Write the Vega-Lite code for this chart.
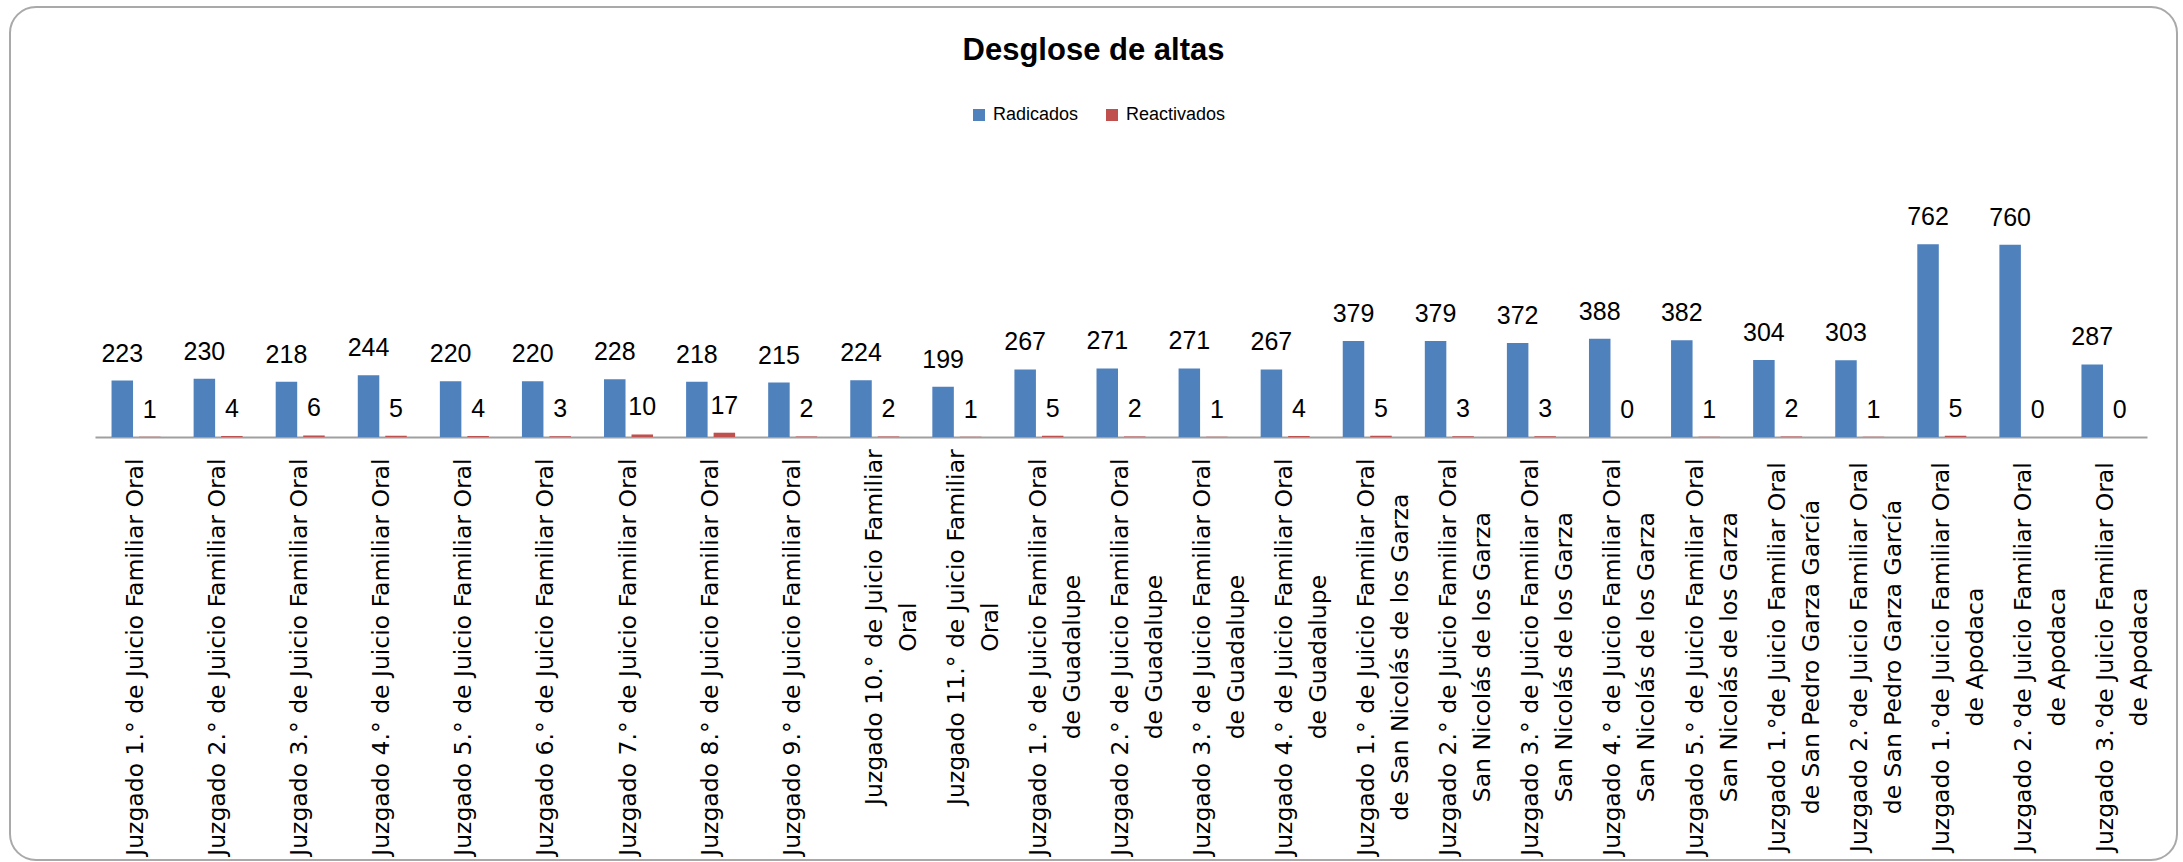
{
  "$schema": "https://vega.github.io/schema/vega-lite/v6.json",
  "autosize": {"type": "none"},
  "width": 2167,
  "height": 853,
  "padding": {"left": 10, "top": 7, "right": 6, "bottom": 2},
  "background": "white",
  "title": {
    "text": "Desglose de altas",
    "orient": "top",
    "anchor": "middle",
    "frame": "group",
    "font": "Liberation Sans",
    "fontSize": 31,
    "fontWeight": "bold",
    "color": "#000000",
    "baseline": "alphabetic",
    "offset": -84
  },
  "config": {
    "view": {"stroke": "#A9A9A9", "strokeWidth": 2, "cornerRadius": 26},
    "axis": {"grid": false}
  },
  "data": {
    "values": [
      {"juzgado": "Juzgado 1.° de Juicio Familiar Oral", "Radicados": 223, "Reactivados": 1},
      {"juzgado": "Juzgado 2.° de Juicio Familiar Oral", "Radicados": 230, "Reactivados": 4},
      {"juzgado": "Juzgado 3.° de Juicio Familiar Oral", "Radicados": 218, "Reactivados": 6},
      {"juzgado": "Juzgado 4.° de Juicio Familiar Oral", "Radicados": 244, "Reactivados": 5},
      {"juzgado": "Juzgado 5.° de Juicio Familiar Oral", "Radicados": 220, "Reactivados": 4},
      {"juzgado": "Juzgado 6.° de Juicio Familiar Oral", "Radicados": 220, "Reactivados": 3},
      {"juzgado": "Juzgado 7.° de Juicio Familiar Oral", "Radicados": 228, "Reactivados": 10},
      {"juzgado": "Juzgado 8.° de Juicio Familiar Oral", "Radicados": 218, "Reactivados": 17},
      {"juzgado": "Juzgado 9.° de Juicio Familiar Oral", "Radicados": 215, "Reactivados": 2},
      {"juzgado": "Juzgado 10.° de Juicio Familiar|Oral", "Radicados": 224, "Reactivados": 2},
      {"juzgado": "Juzgado 11.° de Juicio Familiar|Oral", "Radicados": 199, "Reactivados": 1},
      {"juzgado": "Juzgado 1.° de Juicio Familiar Oral|de Guadalupe", "Radicados": 267, "Reactivados": 5},
      {"juzgado": "Juzgado 2.° de Juicio Familiar Oral|de Guadalupe", "Radicados": 271, "Reactivados": 2},
      {"juzgado": "Juzgado 3.° de Juicio Familiar Oral|de Guadalupe", "Radicados": 271, "Reactivados": 1},
      {"juzgado": "Juzgado 4.° de Juicio Familiar Oral|de Guadalupe", "Radicados": 267, "Reactivados": 4},
      {"juzgado": "Juzgado 1.° de Juicio Familiar Oral|de San Nicolás de los Garza", "Radicados": 379, "Reactivados": 5},
      {"juzgado": "Juzgado 2.° de Juicio Familiar Oral|San Nicolás de los Garza", "Radicados": 379, "Reactivados": 3},
      {"juzgado": "Juzgado 3.° de Juicio Familiar Oral|San Nicolás de los Garza", "Radicados": 372, "Reactivados": 3},
      {"juzgado": "Juzgado 4.° de Juicio Familiar Oral|San Nicolás de los Garza", "Radicados": 388, "Reactivados": 0},
      {"juzgado": "Juzgado 5.° de Juicio Familiar Oral|San Nicolás de los Garza", "Radicados": 382, "Reactivados": 1},
      {"juzgado": "Juzgado 1.°de Juicio Familiar Oral|de San Pedro Garza García", "Radicados": 304, "Reactivados": 2},
      {"juzgado": "Juzgado 2.°de Juicio Familiar Oral|de San Pedro Garza García", "Radicados": 303, "Reactivados": 1},
      {"juzgado": "Juzgado 1.°de Juicio Familiar Oral|de Apodaca", "Radicados": 762, "Reactivados": 5},
      {"juzgado": "Juzgado 2.°de Juicio Familiar Oral|de Apodaca", "Radicados": 760, "Reactivados": 0},
      {"juzgado": "Juzgado 3.°de Juicio Familiar Oral|de Apodaca", "Radicados": 287, "Reactivados": 0}
    ]
  },
  "encoding": {
    "x": {
      "field": "juzgado",
      "type": "nominal",
      "sort": null,
      "scale": {"range": [85, 2137], "paddingInner": 0.403, "paddingOuter": 0.2015},
      "axis": {
        "title": null,
        "offset": -423,
        "domainColor": "#A0A0A0",
        "domainWidth": 2,
        "ticks": false,
        "labels": false
      }
    }
  },
  "layer": [
    {
      "transform": [{"fold": ["Radicados", "Reactivados"], "as": ["serie", "valor"]}],
      "encoding": {
        "xOffset": {
          "field": "serie",
          "type": "nominal",
          "sort": ["Radicados", "Reactivados"],
          "scale": {"paddingInner": 0.218, "paddingOuter": 0}
        },
        "y": {
          "field": "valor",
          "type": "quantitative",
          "scale": {"domain": [0, 1000], "range": [430, 177], "nice": false, "zero": true},
          "axis": null
        }
      },
      "layer": [
        {
          "mark": {"type": "bar"},
          "encoding": {
            "color": {
              "field": "serie",
              "type": "nominal",
              "scale": {"domain": ["Radicados", "Reactivados"], "range": ["#4F81BD", "#C0504D"]},
              "legend": {
                "orient": "none",
                "legendX": 960,
                "legendY": 99,
                "direction": "horizontal",
                "title": null,
                "symbolType": "square",
                "symbolSize": 144,
                "symbolStrokeWidth": 0,
                "symbolOpacity": 1,
                "labelFont": "Liberation Sans",
                "labelFontSize": 18,
                "labelColor": "#000000",
                "labelOffset": 5,
                "columnPadding": 24,
                "padding": 0
              }
            }
          }
        },
        {
          "mark": {
            "type": "text",
            "baseline": "alphabetic",
            "align": "center",
            "dy": -19,
            "font": "Liberation Sans",
            "fontSize": 25,
            "color": "#000000"
          },
          "encoding": {
            "text": {"field": "valor", "type": "quantitative"}
          }
        }
      ]
    },
    {
      "transform": [{"filter": "indexof(datum.juzgado, '10.°') < 0 && indexof(datum.juzgado, '11.°') < 0"}],
      "mark": {
        "type": "text",
        "angle": 270,
        "align": "center",
        "baseline": "middle",
        "lineBreak": "|",
        "lineHeight": 34,
        "font": "DejaVu Sans",
        "fontSize": 23.5,
        "color": "#000000"
      },
      "encoding": {
        "y": {"datum": -870, "type": "quantitative"},
        "text": {"field": "juzgado", "type": "nominal"}
      }
    },
    {
      "transform": [{"filter": "indexof(datum.juzgado, '10.°') >= 0 || indexof(datum.juzgado, '11.°') >= 0"}],
      "mark": {
        "type": "text",
        "angle": 270,
        "align": "center",
        "baseline": "middle",
        "lineBreak": "|",
        "lineHeight": 34,
        "dx": 30,
        "font": "DejaVu Sans",
        "fontSize": 23.5,
        "color": "#000000"
      },
      "encoding": {
        "y": {"datum": -870, "type": "quantitative"},
        "text": {"field": "juzgado", "type": "nominal"}
      }
    }
  ]
}
